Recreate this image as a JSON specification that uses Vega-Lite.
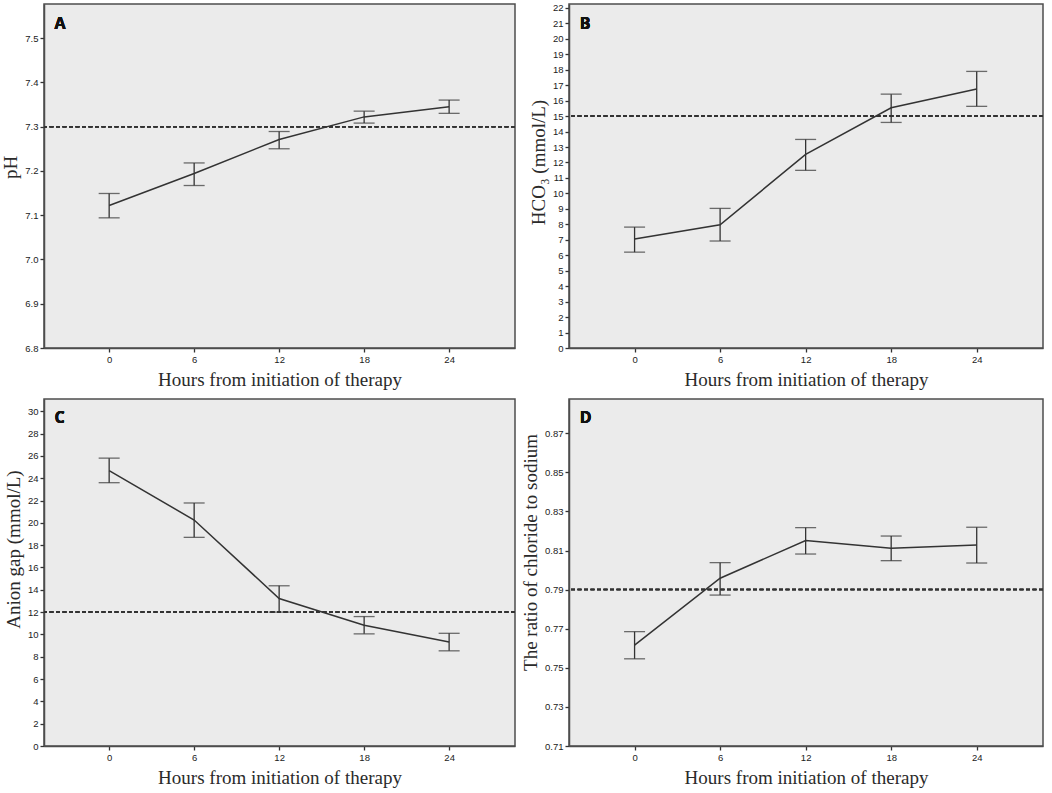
{
  "$schema": "https://vega.github.io/schema/vega-lite/v6.json",
  "background": "white",
  "padding": {"left": 1, "top": 2, "right": 4, "bottom": 4},
  "config": {
    "view": {"fill": "#ebebeb", "stroke": "#4d4d4d", "strokeWidth": 1.5},
    "axis": {
      "grid": false,
      "labelFont": "Liberation Sans",
      "labelFontSize": 9.5,
      "labelColor": "#222222",
      "labelOverlap": false,
      "labelFlush": false,
      "tickCount": 40,
      "tickColor": "#333333",
      "tickSize": 4,
      "tickWidth": 1.3,
      "domainColor": "#4d4d4d",
      "domainWidth": 1.5,
      "titleFont": "Liberation Serif",
      "titleFontSize": 19,
      "titleFontWeight": "normal",
      "titleColor": "#2a2a2a",
      "labelPadding": 2
    },
    "axisX": {"titlePadding": 7},
    "axisY": {"titlePadding": 4}
  },
  "datasets": {
    "ph": [
      {"hour": 0, "mean": 7.122, "lo": 7.094, "hi": 7.149},
      {"hour": 6, "mean": 7.194, "lo": 7.167, "hi": 7.218},
      {"hour": 12, "mean": 7.271, "lo": 7.25, "hi": 7.289},
      {"hour": 18, "mean": 7.322, "lo": 7.308, "hi": 7.335},
      {"hour": 24, "mean": 7.345, "lo": 7.33, "hi": 7.36}
    ],
    "hco3": [
      {"hour": 0, "mean": 7.05, "lo": 6.2, "hi": 7.82},
      {"hour": 6, "mean": 7.97, "lo": 6.92, "hi": 9.03},
      {"hour": 12, "mean": 12.52, "lo": 11.49, "hi": 13.49},
      {"hour": 18, "mean": 15.54, "lo": 14.59, "hi": 16.42},
      {"hour": 24, "mean": 16.75, "lo": 15.63, "hi": 17.89}
    ],
    "ag": [
      {"hour": 0, "mean": 24.68, "lo": 23.6, "hi": 25.8},
      {"hour": 6, "mean": 20.25, "lo": 18.7, "hi": 21.78},
      {"hour": 12, "mean": 13.22, "lo": 12.0, "hi": 14.36},
      {"hour": 18, "mean": 10.83, "lo": 10.05, "hi": 11.6},
      {"hour": 24, "mean": 9.33, "lo": 8.53, "hi": 10.1}
    ],
    "ratio": [
      {"hour": 0, "mean": 0.7616, "lo": 0.7546, "hi": 0.7685},
      {"hour": 6, "mean": 0.7958, "lo": 0.7872, "hi": 0.8038},
      {"hour": 12, "mean": 0.8151, "lo": 0.8082, "hi": 0.8217},
      {"hour": 18, "mean": 0.8111, "lo": 0.8048, "hi": 0.8174},
      {"hour": 24, "mean": 0.8128, "lo": 0.8036, "hi": 0.8219}
    ]
  },
  "columns": 2,
  "bounds": "flush",
  "spacing": {"row": 51, "column": 54},
  "concat": [
    {
      "width": 471,
      "height": 344,
      "data": {"name": "ph"},
      "encoding": {
        "x": {"field": "hour", "type": "quantitative",
          "scale": {"domain": [-4.6, 28.65], "nice": false, "zero": false},
          "axis": {"values": [0, 6, 12, 18, 24], "format": "d", "title": "Hours from initiation of therapy"}}
      },
      "layer": [
        {"mark": {"type": "rule", "color": "#333333", "strokeWidth": 1.5, "strokeDash": [4, 2.5]},
          "encoding": {"x": null, "y": {"datum": 7.3, "type": "quantitative",
              "scale": {"domain": [6.8, 7.577], "nice": false, "zero": false},
              "axis": {"values": [6.8, 6.9, 7.0, 7.1, 7.2, 7.3, 7.4, 7.5], "format": ".1f", "title": "pH", "titleY": 163}}}},
        {"mark": {"type": "rule", "color": "#333333", "strokeWidth": 1.3},
          "encoding": {
            "y": {"field": "lo", "type": "quantitative",
              "axis": {"values": [6.8, 6.9, 7.0, 7.1, 7.2, 7.3, 7.4, 7.5], "format": ".1f", "title": "pH", "titleY": 163}},
            "y2": {"field": "hi"}}},
        {"mark": {"type": "tick", "orient": "horizontal", "size": 21, "thickness": 1.3, "color": "#333333"},
          "encoding": {"y": {"field": "lo", "type": "quantitative"}}},
        {"mark": {"type": "tick", "orient": "horizontal", "size": 21, "thickness": 1.3, "color": "#333333"},
          "encoding": {"y": {"field": "hi", "type": "quantitative"}}},
        {"mark": {"type": "line", "color": "#333333", "strokeWidth": 1.5},
          "encoding": {"y": {"field": "mean", "type": "quantitative"}}},
        {"mark": {"type": "text", "text": "A", "font": "Open Sans", "fontSize": 16, "fontWeight": "bold", "color": "#111111", "align": "left", "baseline": "middle"},
          "encoding": {"x": {"datum": -3.85}, "y": {"datum": 7.532}}}
      ]
    },
    {
      "width": 474,
      "height": 344,
      "data": {"name": "hco3"},
      "encoding": {
        "x": {"field": "hour", "type": "quantitative",
          "scale": {"domain": [-4.6, 28.65], "nice": false, "zero": false},
          "axis": {"values": [0, 6, 12, 18, 24], "format": "d", "title": "Hours from initiation of therapy"}}
      },
      "layer": [
        {"mark": {"type": "rule", "color": "#333333", "strokeWidth": 1.5, "strokeDash": [4, 2.5]},
          "encoding": {"x": null, "y": {"datum": 15, "type": "quantitative",
              "scale": {"domain": [0, 22.25], "nice": false, "zero": false},
              "axis": {"values": [0, 1, 2, 3, 4, 5, 6, 7, 8, 9, 10, 11, 12, 13, 14, 15, 16, 17, 18, 19, 20, 21, 22], "format": "d", "title": "HCO₃ (mmol/L)", "titleY": 158}}}},
        {"mark": {"type": "rule", "color": "#333333", "strokeWidth": 1.3},
          "encoding": {
            "y": {"field": "lo", "type": "quantitative",
              "axis": {"values": [0, 1, 2, 3, 4, 5, 6, 7, 8, 9, 10, 11, 12, 13, 14, 15, 16, 17, 18, 19, 20, 21, 22], "format": "d", "title": "HCO₃ (mmol/L)", "titleY": 158}},
            "y2": {"field": "hi"}}},
        {"mark": {"type": "tick", "orient": "horizontal", "size": 21, "thickness": 1.3, "color": "#333333"},
          "encoding": {"y": {"field": "lo", "type": "quantitative"}}},
        {"mark": {"type": "tick", "orient": "horizontal", "size": 21, "thickness": 1.3, "color": "#333333"},
          "encoding": {"y": {"field": "hi", "type": "quantitative"}}},
        {"mark": {"type": "line", "color": "#333333", "strokeWidth": 1.5},
          "encoding": {"y": {"field": "mean", "type": "quantitative"}}},
        {"mark": {"type": "text", "text": "B", "font": "Open Sans", "fontSize": 16, "fontWeight": "bold", "color": "#111111", "align": "left", "baseline": "middle"},
          "encoding": {"x": {"datum": -3.85}, "y": {"datum": 20.93}}}
      ]
    },
    {
      "width": 471,
      "height": 347,
      "data": {"name": "ag"},
      "encoding": {
        "x": {"field": "hour", "type": "quantitative",
          "scale": {"domain": [-4.6, 28.65], "nice": false, "zero": false},
          "axis": {"values": [0, 6, 12, 18, 24], "format": "d", "title": "Hours from initiation of therapy"}}
      },
      "layer": [
        {"mark": {"type": "rule", "color": "#333333", "strokeWidth": 1.5, "strokeDash": [4, 2.5]},
          "encoding": {"x": null, "y": {"datum": 12, "type": "quantitative",
              "scale": {"domain": [0, 31.1], "nice": false, "zero": false},
              "axis": {"values": [0, 2, 4, 6, 8, 10, 12, 14, 16, 18, 20, 22, 24, 26, 28, 30], "format": "d", "title": "Anion gap (mmol/L)", "titleY": 150}}}},
        {"mark": {"type": "rule", "color": "#333333", "strokeWidth": 1.3},
          "encoding": {
            "y": {"field": "lo", "type": "quantitative",
              "axis": {"values": [0, 2, 4, 6, 8, 10, 12, 14, 16, 18, 20, 22, 24, 26, 28, 30], "format": "d", "title": "Anion gap (mmol/L)", "titleY": 150}},
            "y2": {"field": "hi"}}},
        {"mark": {"type": "tick", "orient": "horizontal", "size": 21, "thickness": 1.3, "color": "#333333"},
          "encoding": {"y": {"field": "lo", "type": "quantitative"}}},
        {"mark": {"type": "tick", "orient": "horizontal", "size": 21, "thickness": 1.3, "color": "#333333"},
          "encoding": {"y": {"field": "hi", "type": "quantitative"}}},
        {"mark": {"type": "line", "color": "#333333", "strokeWidth": 1.5},
          "encoding": {"y": {"field": "mean", "type": "quantitative"}}},
        {"mark": {"type": "text", "text": "C", "font": "Open Sans", "fontSize": 16, "fontWeight": "bold", "color": "#111111", "align": "left", "baseline": "middle"},
          "encoding": {"x": {"datum": -3.85}, "y": {"datum": 29.4}}}
      ]
    },
    {
      "width": 474,
      "height": 347,
      "data": {"name": "ratio"},
      "encoding": {
        "x": {"field": "hour", "type": "quantitative",
          "scale": {"domain": [-4.6, 28.65], "nice": false, "zero": false},
          "axis": {"values": [0, 6, 12, 18, 24], "format": "d", "title": "Hours from initiation of therapy"}}
      },
      "layer": [
        {"mark": {"type": "rule", "color": "#333333", "strokeWidth": 1.5, "strokeDash": [4, 2.5]},
          "encoding": {"x": null, "y": {"datum": 0.79, "type": "quantitative",
              "scale": {"domain": [0.71, 0.8875], "nice": false, "zero": false},
              "axis": {"values": [0.71, 0.73, 0.75, 0.77, 0.79, 0.81, 0.83, 0.85, 0.87], "format": ".2f", "title": "The ratio of chloride to sodium", "titleY": 153}}}},
        {"mark": {"type": "rule", "color": "#333333", "strokeWidth": 1.3},
          "encoding": {
            "y": {"field": "lo", "type": "quantitative",
              "axis": {"values": [0.71, 0.73, 0.75, 0.77, 0.79, 0.81, 0.83, 0.85, 0.87], "format": ".2f", "title": "The ratio of chloride to sodium", "titleY": 153}},
            "y2": {"field": "hi"}}},
        {"mark": {"type": "tick", "orient": "horizontal", "size": 21, "thickness": 1.3, "color": "#333333"},
          "encoding": {"y": {"field": "lo", "type": "quantitative"}}},
        {"mark": {"type": "tick", "orient": "horizontal", "size": 21, "thickness": 1.3, "color": "#333333"},
          "encoding": {"y": {"field": "hi", "type": "quantitative"}}},
        {"mark": {"type": "line", "color": "#333333", "strokeWidth": 1.5},
          "encoding": {"y": {"field": "mean", "type": "quantitative"}}},
        {"mark": {"type": "text", "text": "D", "font": "Open Sans", "fontSize": 16, "fontWeight": "bold", "color": "#111111", "align": "left", "baseline": "middle"},
          "encoding": {"x": {"datum": -3.85}, "y": {"datum": 0.878}}}
      ]
    }
  ]
}
